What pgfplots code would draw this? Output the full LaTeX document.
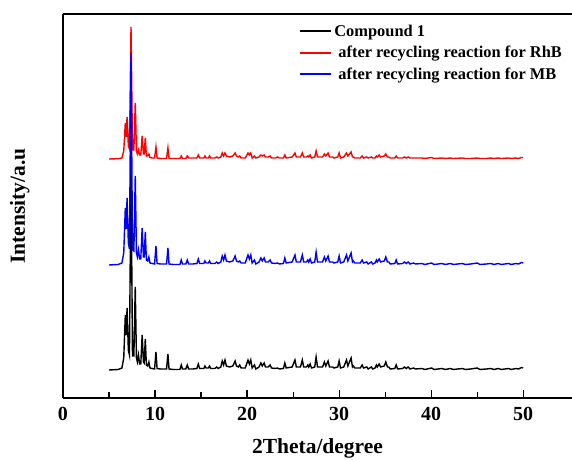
\documentclass[border=0pt]{standalone}
\usepackage{fontspec}
\setmainfont{Liberation Serif}
\usepackage{pgfplots}
\pgfplotsset{compat=1.18}
\usepackage{pgfplotstable}
\usetikzlibrary{calc}

% XRD patterns, intensities (own baseline = 0)
\pgfplotstableread{
x      cmp  rhb  mb
5.0    0    0    0
6.0    0.5  0.3  0.5
6.4    2    1    2
6.6    12   8    12
6.77   55   36   57
6.87   35   22   36
6.96   62   42   67
7.10   20   13   22
7.22   15   10   16
7.39   205  132  212
7.55   14   9    15
7.70   14   9    14
7.85   83   56   89
7.98   12   8    12
8.08   8    5    8
8.20   15   9    15
8.32   6    4    6
8.45   6    4    6
8.60   35   23   37
8.74   8    5    8
8.82   7    5    8
8.94   31   21   33
9.06   5    3    5
9.20   4    3    4
9.33   8    5    8
9.45   2    1.5  2
9.70   1.5  1    1.5
9.95   1    1    1
10.10  18   12   19
10.22  1.5  1    1.5
10.60  1    0.5  1
11.25  1    0.5  1
11.40  16   11   17
11.52  1    0.5  1
12.00  0.5  0.5  0.5
12.70  0.5  0.5  0.5
12.85  5    3    5
12.98  1    0.5  1
13.35  1    0.5  1
13.50  5    3    5
13.65  1    1    1
14.10  1    1    1
14.55  1.5  1    1.5
14.70  6    4    6
14.85  1.5  1    1.5
15.30  1.5  1    1.5
15.42  4    3    4
15.55  2    1    2
15.80  2    1    2
15.92  4    3    4
16.05  1.5  1    1.5
16.50  1.5  1    1.5
16.70  3    2    3
16.85  1.5  1    1.5
17.15  3    2    3
17.30  9    6    9
17.45  5    3    5
17.60  10   6    10
17.75  4    3    4
18.10  3    2    3
18.45  4    3    4
18.70  9    6    9
18.85  4    3    4
19.05  3    2    3
19.20  5    3    4
19.35  2    1    2
19.80  2    1    2
20.10  10   6    10
20.25  6    4    6
20.40  10   6    10
20.55  2    1    2
20.80  5    3    5
20.95  1    1    1
21.30  3    2    3
21.50  7    4    7
21.65  4    3    4
21.85  7    4    7
22.00  3    2    3
22.30  3    2    3
22.50  5    3    5
22.65  2    1    2
23.10  1.5  1    1.5
23.30  2    2    2
23.50  1    1    1
23.95  1.5  1    1.5
24.10  7    4    7
24.25  2    1    2
24.90  3    2    3
25.20  10   6    10
25.35  3    2    3
25.80  3    2    3
26.00  10   6    10
26.15  3    2    3
26.45  3    2    3
26.60  5    3    5
26.70  3    2    3
26.85  6    4    6
27.00  2    1    2
27.35  3    2    3
27.50  13   8    13
27.65  3    2    3
28.20  3    2    3
28.40  8    5    8
28.55  4    3    4
28.80  9    6    9
28.95  3    2    3
29.30  3    2    3
29.45  2    1    2
29.85  3    2    3
30.00  9    6    9
30.15  2    1    2
30.50  3    2    3
30.80  10   6    10
30.95  4    3    4
31.30  12   7    12
31.45  3    2    3
31.55  4    2    4
31.70  2    1    2
32.30  2    1    2
32.50  5    3    5
32.65  2    1    2
33.00  3    2    3
33.15  1    1    1
33.50  3    2    3
33.65  1    1    1
33.90  2    1    2
34.05  5    3    5
34.15  3    2    3
34.35  6    4    6
34.50  3    2    3
34.90  4    3    4
35.07  8    5    8
35.25  3    2    3
35.40  3    2    3
35.55  1    1    1
36.05  1.5  1    1.5
36.20  5    3    5
36.35  1    1    1
36.90  1.5  1    1.5
37.10  3    2    3
37.30  1.5  1    1.5
37.50  3    2    3
37.70  1    1    1
38.10  2    1    2
38.30  1    1    1
39.00  1.5  1    1.5
39.30  0.5  0.5  0.5
40.05  2    1.5  2
40.30  0.5  0.5  0.5
41.20  1.5  1    1.5
41.50  0.5  0.5  0.5
42.10  1.5  1    1.5
42.40  0.5  0.5  0.5
43.40  1.5  1    1.5
43.70  0.5  0.5  0.5
44.30  1    0.5  1
45.00  2    1    2
45.30  0.5  0.5  0.5
46.00  1    0.5  1
46.50  1.5  1    1.5
46.80  0.5  0.5  0.5
47.30  1.5  1    1.5
47.60  0.5  0.5  0.5
48.40  1.5  1    1.5
48.70  0.5  0.5  0.5
49.20  1.5  1    1.5
49.50  1    0.5  1
49.80  2.5  1.5  2.5
50.00  2    1.5  2
}\xrd

\begin{document}
\begin{tikzpicture}
\begin{axis}[
    name=ax,
    scale only axis,
    width=509pt, height=384pt,
    xmin=0, xmax=55.3,
    ymin=0, ymax=384,
    axis x line*=bottom,
    axis y line*=left,
    axis line style={line width=1.5pt},
    ytick=\empty,
    xtick={0,10,...,50},
    minor xtick={5,15,...,45},
    tick align=inside,
    major tick length=8pt,
    minor tick length=6pt,
    tick style={line width=1.2pt, black},
    /pgf/number format/assume math mode=true,
    xticklabel style={font=\fontsize{20}{20}\selectfont\bfseries, yshift=-6pt},
    xlabel={2Theta/degree},
    ylabel={Intensity/a.u},
    label style={font=\fontsize{21.5}{21.5}\selectfont\bfseries},
    xlabel style={at={(axis description cs:0.5,-0.132)}, anchor=center},
    ylabel style={at={(axis description cs:-0.085,0.5)}, anchor=center},
    legend image code/.code={\draw[#1, line width=2pt] (0pt,0pt) -- (31pt,0pt);},
    legend style={at={(axis description cs:0.464,0.978)}, anchor=north west,
        draw=none, fill=none, inner sep=0pt, row sep=4.5pt,
        font=\fontsize{16.4}{18}\selectfont\bfseries},
    legend cell align=left,
]
\addplot[black, line width=1.4pt] table[x=x, y expr=\thisrow{cmp}+28] {\xrd};
\addlegendentry{Compound 1}
\addplot[red, line width=1.4pt] table[x=x, y expr=\thisrow{rhb}+239] {\xrd};
\addlegendentry{\hspace{4pt}after recycling reaction for RhB}
\addplot[blue, line width=1.4pt] table[x=x, y expr=\thisrow{mb}+133] {\xrd};
\addlegendentry{\hspace{4pt}after recycling reaction for MB}
\draw[line width=1.5pt] (rel axis cs:0,1) -- (rel axis cs:1,1);
\end{axis}
\pgfresetboundingbox
\path[use as bounding box] ($(ax.south west)+(-63pt,-62pt)$) rectangle ($(ax.north east)+(0pt,14pt)$);
\end{tikzpicture}
\end{document}
